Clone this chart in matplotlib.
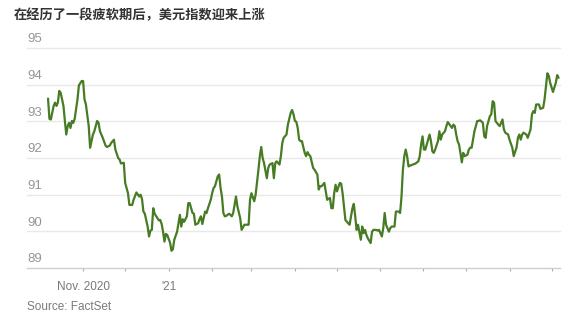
import matplotlib
matplotlib.use("Agg")
import matplotlib.pyplot as plt
import pandas as pd

title = "在经历了一段疲软期后，美元指数迎来上涨"
source = "Source: FactSet"

dates = [
    "2020-10-07", "2020-10-08", "2020-10-09", "2020-10-11", "2020-10-12", "2020-10-13", "2020-10-14",
    "2020-10-15", "2020-10-16", "2020-10-18", "2020-10-19", "2020-10-20", "2020-10-21", "2020-10-22",
    "2020-10-23", "2020-10-24", "2020-10-25", "2020-10-26", "2020-10-28", "2020-10-29", "2020-10-31",
    "2020-11-01", "2020-11-02", "2020-11-03", "2020-11-05", "2020-11-06", "2020-11-08", "2020-11-09",
    "2020-11-11", "2020-11-12", "2020-11-13", "2020-11-15", "2020-11-17", "2020-11-18", "2020-11-20",
    "2020-11-21", "2020-11-23", "2020-11-24", "2020-11-26", "2020-11-27", "2020-11-28", "2020-11-30",
    "2020-12-01", "2020-12-03", "2020-12-04", "2020-12-06", "2020-12-07",
    "2020-12-09", "2020-12-11", "2020-12-12", "2020-12-13", "2020-12-14", "2020-12-15", "2020-12-17",
    "2020-12-18", "2020-12-19", "2020-12-20", "2020-12-21", "2020-12-22", "2020-12-24", "2020-12-25",
    "2020-12-26", "2020-12-27", "2020-12-28", "2020-12-29", "2020-12-30", "2020-12-31",
    "2021-01-02", "2021-01-03", "2021-01-04", "2021-01-05", "2021-01-07", "2021-01-08", "2021-01-09",
    "2021-01-10", "2021-01-11", "2021-01-12", "2021-01-14", "2021-01-15", "2021-01-16", "2021-01-18",
    "2021-01-19", "2021-01-20", "2021-01-22", "2021-01-23", "2021-01-24", "2021-01-25", "2021-01-27",
    "2021-01-28", "2021-01-29", "2021-01-31",
    "2021-02-01", "2021-02-02", "2021-02-03", "2021-02-05", "2021-02-06", "2021-02-07", "2021-02-08",
    "2021-02-09", "2021-02-10", "2021-02-11", "2021-02-13", "2021-02-14", "2021-02-15", "2021-02-16",
    "2021-02-18", "2021-02-19", "2021-02-21", "2021-02-22", "2021-02-24", "2021-02-25", "2021-02-27",
    "2021-02-28",
    "2021-03-01", "2021-03-03", "2021-03-04", "2021-03-06", "2021-03-07", "2021-03-08", "2021-03-09",
    "2021-03-10", "2021-03-12", "2021-03-13", "2021-03-14", "2021-03-16", "2021-03-17", "2021-03-18",
    "2021-03-19", "2021-03-21", "2021-03-22", "2021-03-23", "2021-03-24", "2021-03-26", "2021-03-27",
    "2021-03-29", "2021-03-30", "2021-03-31",
    "2021-04-01", "2021-04-02", "2021-04-03", "2021-04-04", "2021-04-05", "2021-04-06", "2021-04-08",
    "2021-04-09", "2021-04-10", "2021-04-11", "2021-04-12", "2021-04-14", "2021-04-15", "2021-04-17",
    "2021-04-18", "2021-04-19", "2021-04-20", "2021-04-22", "2021-04-23", "2021-04-24", "2021-04-26",
    "2021-04-27", "2021-04-28", "2021-04-29", "2021-04-30",
    "2021-05-01", "2021-05-03", "2021-05-04", "2021-05-05", "2021-05-07", "2021-05-09", "2021-05-10",
    "2021-05-12", "2021-05-13", "2021-05-14", "2021-05-15", "2021-05-16", "2021-05-18", "2021-05-19",
    "2021-05-20", "2021-05-21", "2021-05-22", "2021-05-23", "2021-05-25", "2021-05-26", "2021-05-27",
    "2021-05-29", "2021-05-30", "2021-05-31",
    "2021-06-02", "2021-06-03", "2021-06-04", "2021-06-05", "2021-06-07", "2021-06-08", "2021-06-09",
    "2021-06-10", "2021-06-11", "2021-06-12", "2021-06-14", "2021-06-15", "2021-06-16", "2021-06-17",
    "2021-06-18", "2021-06-19", "2021-06-20", "2021-06-21", "2021-06-22", "2021-06-24", "2021-06-26",
    "2021-06-28", "2021-06-29", "2021-06-30",
    "2021-07-01", "2021-07-02", "2021-07-03", "2021-07-05", "2021-07-06", "2021-07-07", "2021-07-08",
    "2021-07-09", "2021-07-10", "2021-07-12", "2021-07-13", "2021-07-14", "2021-07-15", "2021-07-17",
    "2021-07-18", "2021-07-19", "2021-07-21", "2021-07-22", "2021-07-23", "2021-07-24", "2021-07-25",
    "2021-07-26", "2021-07-27", "2021-07-28", "2021-07-29", "2021-07-30", "2021-07-31",
    "2021-08-02", "2021-08-03", "2021-08-04", "2021-08-05", "2021-08-07", "2021-08-08", "2021-08-09",
    "2021-08-10", "2021-08-11", "2021-08-13", "2021-08-14", "2021-08-15", "2021-08-16", "2021-08-18",
    "2021-08-19", "2021-08-20", "2021-08-21", "2021-08-22", "2021-08-24", "2021-08-25", "2021-08-27",
    "2021-08-28", "2021-08-29", "2021-08-31",
    "2021-09-01", "2021-09-03", "2021-09-04", "2021-09-06", "2021-09-07", "2021-09-08", "2021-09-09",
    "2021-09-10", "2021-09-11", "2021-09-13", "2021-09-14", "2021-09-16", "2021-09-17", "2021-09-18",
    "2021-09-19", "2021-09-20", "2021-09-22", "2021-09-23", "2021-09-25", "2021-09-26", "2021-09-27",
    "2021-09-28", "2021-09-29", "2021-09-30",
    "2021-10-02", "2021-10-04", "2021-10-05", "2021-10-06",
]

values = [
    93.62, 93.07, 93.05, 93.42, 93.51, 93.42, 93.51,
    93.83, 93.78, 93.42, 93.01, 92.64, 92.87, 92.96,
    92.82, 93.01, 92.96, 93.07, 93.60, 93.98, 94.10,
    94.10, 93.60, 93.46, 92.87, 92.28, 92.64, 92.73,
    93.01, 92.96, 92.73, 92.55, 92.34, 92.30, 92.34,
    92.41, 92.50, 92.23, 92.00, 91.96, 91.85, 91.87,
    91.32, 91.04, 90.72, 90.72, 90.86,
    91.06, 90.95, 91.00, 90.88, 90.54, 90.48, 90.13,
    89.86, 90.02, 90.04, 90.63, 90.48, 90.36, 90.30,
    90.31, 90.20, 89.99, 89.72, 89.93, 89.90,
    89.69, 89.47, 89.51, 89.77, 89.99, 90.22, 90.45,
    90.13, 90.33, 90.26, 90.41, 90.77, 90.77, 90.50,
    90.48, 90.18, 90.22, 90.33, 90.41, 90.20, 90.54,
    90.50, 90.63, 90.86,
    91.04, 91.18, 91.23, 91.50, 91.55, 91.18, 90.95,
    90.50, 90.41, 90.42, 90.48, 90.45, 90.41, 90.50,
    90.95, 90.68, 90.36, 90.04, 90.18, 90.18, 90.18,
    90.86,
    91.04, 90.82, 91.00, 91.68, 92.05, 92.30, 92.00,
    91.86, 91.45, 91.73, 91.82, 91.86, 91.45, 91.86,
    91.91, 91.82, 92.05, 92.41, 92.55, 92.64, 92.91,
    93.23, 93.31, 93.19,
    93.01, 92.99, 92.82, 92.50, 92.46, 92.46, 92.14,
    92.05, 92.16, 92.09, 92.05, 91.73, 91.68, 91.55,
    91.14, 91.23, 91.23, 91.32, 91.09, 90.86, 90.91,
    90.63, 90.63, 91.04, 91.27,
    91.09, 91.32, 91.30, 91.04, 90.31, 90.22, 90.18,
    90.63, 90.75, 90.41, 90.04, 90.18, 89.77, 90.13,
    89.95, 90.04, 89.90, 89.81, 89.68, 89.99, 90.04,
    90.04, 90.02, 90.04,
    89.86, 90.09, 90.50, 90.18, 89.99, 90.09, 90.13,
    90.13, 90.13, 90.54, 90.54, 90.50, 90.95, 91.68,
    92.05, 92.23, 92.05, 91.77, 91.79, 91.82, 91.85,
    91.91, 92.05, 92.37,
    92.59, 92.23, 92.23, 92.50, 92.64, 92.46, 92.18,
    92.14, 92.23, 92.46, 92.73, 92.50, 92.64, 92.73,
    92.87, 92.98, 92.87, 92.82, 92.91, 92.87, 92.64,
    92.46, 92.37, 92.14, 91.88, 92.14, 92.05,
    92.09, 92.23, 92.28, 92.28, 92.73, 92.87, 93.01,
    93.01, 93.03, 92.96, 92.59, 92.55, 92.87, 93.14,
    93.19, 93.55, 93.51, 93.01, 92.91, 92.87, 93.05,
    92.78, 92.69, 92.64,
    92.50, 92.28, 92.05, 92.28, 92.55, 92.64, 92.50,
    92.64, 92.69, 92.64, 92.55, 92.78, 93.19, 93.28,
    93.23, 93.46, 93.46, 93.34, 93.37, 93.60, 93.96,
    94.31, 94.24, 94.05,
    93.80, 94.05, 94.26, 94.19,
]

y_ticks = [89, 90, 91, 92, 93, 94, 95]
x_tick_dates = ["2020-11-01", "2020-12-01", "2021-01-01", "2021-02-01", "2021-03-01", "2021-04-01",
                "2021-05-01", "2021-06-01", "2021-07-01", "2021-08-01", "2021-09-01", "2021-10-01"]
x_tick_labels = ["Nov. 2020", "", "'21", "", "", "", "", "", "", "", "", ""]

W, H = 572, 317
fig = plt.figure(figsize=(W / 100, H / 100), dpi=100)
ax = fig.add_axes([27 / W, 49 / H, 533 / W, 220 / H])

ax.plot(pd.to_datetime(dates), values, color="#477b24", lw=1.6,
        solid_joinstyle="round", solid_capstyle="round", zorder=3)

ax.set_ylim(y_ticks[0], y_ticks[-1])
ax.set_xlim(pd.Timestamp("2020-09-22"), pd.Timestamp("2021-10-07"))

for y in y_ticks[1:]:
    ax.axhline(y, color="#e9e9e9", lw=1.0, zorder=1, clip_on=False)

ax.set_yticks([])
for y in y_ticks:
    ax.annotate(str(y), xy=(0, y), xycoords=ax.get_yaxis_transform(),
                xytext=(0, 2.0), textcoords="offset points", ha="left", va="bottom",
                fontsize=9.5, color="#959595", family=["Liberation Sans", "DejaVu Sans"])

for s in ["top", "right", "left"]:
    ax.spines[s].set_visible(False)
ax.spines["bottom"].set_color("#cfcfcf")
ax.spines["bottom"].set_linewidth(1.0)

ax.set_xticks(pd.to_datetime(x_tick_dates))
ax.set_xticklabels(x_tick_labels, family=["Liberation Sans", "DejaVu Sans"])
ax.tick_params(axis="x", length=2.5, width=0.8, color="#aaaaaa", labelsize=8.5,
               labelcolor="#7a7a7a", pad=7)

fig.text(14 / W, 1 - 15 / H, title, fontsize=9.5, fontweight="bold", color="#333333",
         family=["Noto Sans CJK SC", "DejaVu Sans"], va="center", ha="left")
fig.text(27 / W, 1 - 307 / H, source, fontsize=8.5, color="#7a7a7a",
         family=["Liberation Sans", "DejaVu Sans"], va="center", ha="left")

fig.savefig("out.png", dpi=100)
